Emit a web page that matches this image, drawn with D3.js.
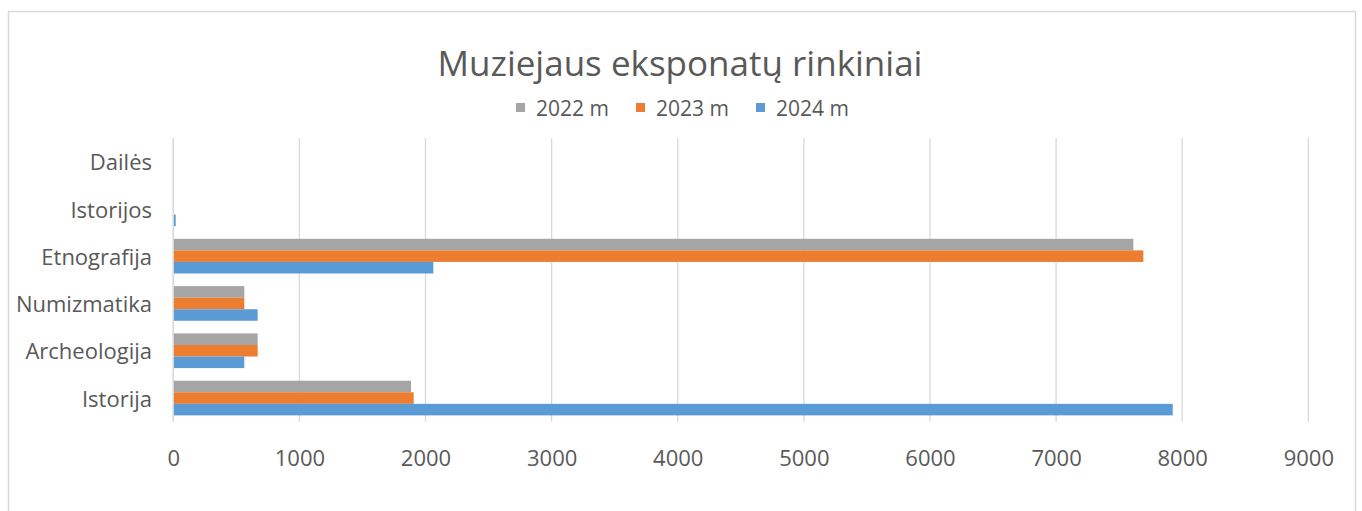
<!DOCTYPE html>
<html><head><meta charset="utf-8">
<script src="https://cdn.jsdelivr.net/npm/d3@7"></script>
<style>
html,body{margin:0;padding:0;background:#fff;}
svg{display:block;}
text{font-family:"Open Sans","Segoe UI",sans-serif;fill:#595959;}
</style></head><body>
<svg id="c" width="1362" height="511"></svg>
<script>
const categories = ["Istorija","Archeologija","Numizmatika","Etnografija","Istorijos","Dailės"];
const seriesNames = ["2022 m","2023 m","2024 m"];
const values2022 = [1885, 669, 563, 7613, 0, 0];
const values2023 = [1906, 669, 563, 7692, 0, 0];
const values2024 = [7925, 563, 669, 2062, 19, 0];
const tickValues = [0,1000,2000,3000,4000,5000,6000,7000,8000,9000];
const colors = ["#A5A5A5","#ED7D31","#5B9BD5"];
const title = "Muziejaus eksponatų rinkiniai";

const series = [values2022, values2023, values2024];
const svg = d3.select("#c");

// chart border
svg.append("rect").attr("x",8.5).attr("y",11.5).attr("width",1347).attr("height",520)
  .attr("fill","#fff").attr("stroke","#D9D9D9").attr("stroke-width",1.5);

const plotLeft = 173.3, plotRight = 1308.3, plotTop = 137.9, plotBottom = 421.7;
const x = d3.scaleLinear().domain([0,9000]).range([plotLeft, plotRight]);
const y = d3.scaleBand().domain(categories.slice().reverse()).range([plotTop, plotBottom]).paddingInner(0.267).paddingOuter(0.1335);
const y1 = d3.scaleBand().domain(seriesNames).range([0, y.bandwidth()]);

// gridlines
svg.append("g").selectAll("line").data(tickValues).join("line")
  .attr("x1",d=>x(d)).attr("x2",d=>x(d)).attr("y1",plotTop).attr("y2",plotBottom)
  .attr("stroke","#D9D9D9").attr("stroke-width",1.3);

// bars
const g = svg.append("g");
seriesNames.forEach((s,i)=>{
  g.append("g").selectAll("rect").data(categories.map((c,j)=>({c,v:series[i][j]}))).join("rect")
    .attr("x",x(0)).attr("y",d=>y(d.c)+y1(s))
    .attr("width",d=>Math.max(0,x(d.v)-x(0))).attr("height",y1.bandwidth())
    .attr("fill",colors[i]);
});

// x axis labels
const xAxis = d3.axisBottom(x).tickValues(tickValues).tickSize(0).tickPadding(0).tickFormat(d3.format("d"));
const ax = svg.append("g").attr("transform",`translate(0,${plotBottom})`).call(xAxis);
ax.select(".domain").remove();
ax.selectAll("text").attr("dy",null).attr("y",44).style("font-size","22px").attr("fill","#595959");

// y axis labels
const yAxis = d3.axisLeft(y).tickSize(0).tickPadding(0);
const ay = svg.append("g").attr("transform",`translate(152,1)`).call(yAxis);
ay.select(".domain").remove();
ay.selectAll("text").attr("dy","0.35em").style("font-size","22px").attr("fill","#595959");

// axis line at 0
svg.append("line").attr("x1",x(0)).attr("x2",x(0)).attr("y1",plotTop).attr("y2",plotBottom)
  .attr("stroke","#D9D9D9").attr("stroke-width",1.3);

// title
svg.append("text").attr("x",680).attr("y",76).attr("text-anchor","middle")
  .style("font-size","35px").text(title);

// legend
const legX = [516, 636, 756];
seriesNames.forEach((s,i)=>{
  svg.append("rect").attr("x",legX[i]).attr("y",103).attr("width",9).attr("height",9).attr("fill",colors[i]);
  svg.append("text").attr("x",legX[i]+20).attr("y",116).style("font-size","21px").text(s);
});
</script>
</body></html>
